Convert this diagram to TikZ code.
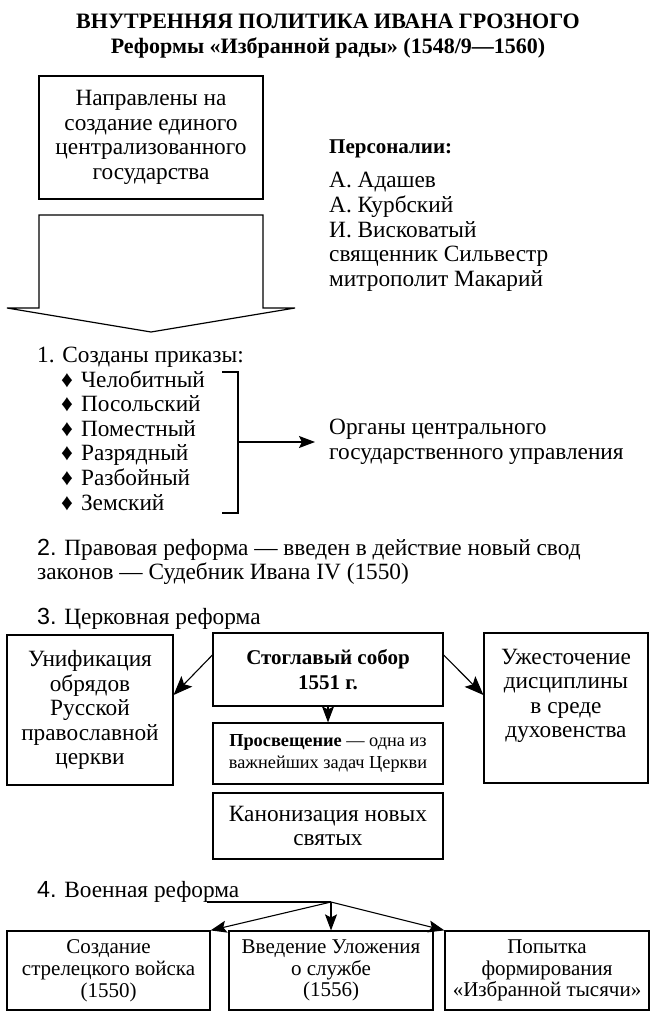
\documentclass[tikz,border=0pt]{standalone}
\usepackage{fontspec}
\setmainfont{Liberation Serif}
\newfontfamily\numfont{Liberation Sans}
\usetikzlibrary{arrows.meta}
\newcommand{\fBody}{\fontsize{23.3}{24.5}\selectfont}
\newcommand{\fSmall}{\fontsize{18.3}{22}\selectfont}
\newcommand{\fMil}{\fontsize{21}{21.8}\selectfont}
\newcommand{\fTitle}{\fontsize{22}{24}\selectfont\bfseries}
\newcommand{\fBoldP}{\fontsize{21}{25}\selectfont\bfseries}
\tikzset{
  box/.style={draw, line width=1.2pt, inner sep=0pt, align=center},
  arr/.style={line width=1.1pt, -{Stealth[length=16pt,width=12pt,inset=3pt]}},
  bigarr/.style={line width=1.1pt, -{Stealth[length=19pt,width=15pt,inset=4pt]}},
  txt/.style={anchor=base west, inner sep=0pt, font=\fBody},
  bul/.style={anchor=base west, inner sep=0pt, font=\fBody}
}
\begin{document}
\begin{tikzpicture}[x=1pt,y=-1pt]
\useasboundingbox (0,0) rectangle (656,1024);
\fill[white] (0,0) rectangle (656,1024);
% title
\node[anchor=base, inner sep=0pt, font=\fTitle] (t1) at (328,29) {ВНУТРЕННЯЯ ПОЛИТИКА ИВАНА ГРОЗНОГО};
\node[anchor=base, inner sep=0pt, font=\fTitle] (t2) at (328,54) {Реформы «Избранной рады» (1548/9—1560)};
% goal box
\node[box, minimum width=224pt, minimum height=123pt, font=\fBody] (goal) at (151,137.5) {Направлены на\\создание единого\\централизованного\\государства};
% big arrow
\draw[line width=1.2pt, line join=miter] (39,215) -- (263,215) -- (263,308) -- (295,308) -- (151,332) -- (7,308) -- (39,308) -- cycle;
% persons
\node[txt, font=\fBoldP] (pers) at (329,154) {Персоналии:};
\node[txt] (p1) at (329,188) {А. Адашев};
\node[txt] (p2) at (329,212.5) {А. Курбский};
\node[txt] (p3) at (329,237) {И. Висковатый};
\node[txt] (p4) at (329,261.5) {священник Сильвестр};
\node[txt] (p5) at (329,286) {митрополит Макарий};
% item 1
\node[txt] (i1) at (37,362) {1. Созданы приказы:};
\node[bul] (b1) at (61,387) {♦\hspace{8pt}Челобитный};
\node[bul] (b2) at (61,411.6) {♦\hspace{8pt}Посольский};
\node[bul] (b3) at (61,436.2) {♦\hspace{8pt}Поместный};
\node[bul] (b4) at (61,460.8) {♦\hspace{8pt}Разрядный};
\node[bul] (b5) at (61,485.4) {♦\hspace{8pt}Разбойный};
\node[bul] (b6) at (61,510) {♦\hspace{8pt}Земский};
\coordinate (bt) at (222,372);
\coordinate (bb) at (222,513);
\coordinate (bm) at (238,442);
\draw[line width=1.1pt] (bt) -- (238,372) -- (238,513) -- (bb);
\node[anchor=west, inner sep=0pt, align=left, font=\fBody] (org) at (329,442) {Органы центрального\\государственного управления};
\draw[arr, shorten >=14pt] (bm) -- (org.west);
% item 2
\node[txt] (i2) at (37,555) {{\numfont 2.} Правовая реформа — введен в действие новый свод};
\node[txt] (i2b) at (37,579) {законов — Судебник Ивана IV (1550)};
% item 3
\node[txt] (i3) at (37,624) {{\numfont 3.} Церковная реформа};
\node[box, minimum width=166pt, minimum height=150pt, font=\fBody] (unif) at (90,710) {Унификация\\обрядов\\Русской\\православной\\церкви};
\node[box, minimum width=230pt, minimum height=73pt, font=\fBoldP] (sobor) at (328,669.5) {Стоглавый собор\\1551 г.};
\node[box, minimum width=164pt, minimum height=150pt] (uzh) at (566,708) {};
\node[inner sep=0pt, align=center, font=\fBody] (uzht) at (566,696) {Ужесточение\\дисциплины\\в среде\\духовенства};
\node[box, minimum width=230pt, minimum height=61pt, font=\fSmall] (prosv) at (328,753.5) {\textbf{Просвещение} — одна из\\важнейших задач Церкви};
\node[box, minimum width=230pt, minimum height=66pt, font=\fBody] (kanon) at (328,826) {Канонизация новых\\святых};
\draw[bigarr] ([yshift=14.5pt]sobor.west) -- ([yshift=15pt]unif.east);
\draw[bigarr] ([yshift=14.5pt]sobor.east) -- ([yshift=13pt]uzh.west);
\draw[arr] (sobor.south) -- (prosv.north);
% item 4
\node[txt] (i4) at (37,897) {{\numfont 4.} Военная реформа};
\coordinate (ls) at (207,902);
\coordinate (j) at (331,902);
\node[box, minimum width=203pt, minimum height=79pt, font=\fMil] (strel) at (108.5,970.5) {Создание\\стрелецкого войска\\(1550)};
\node[box, minimum width=204pt, minimum height=79pt, font=\fMil] (ulozh) at (331,970.5) {Введение Уложения\\о службе\\(1556)};
\node[box, minimum width=204pt, minimum height=79pt, font=\fMil] (tys) at (547,970.5) {Попытка\\формирования\\«Избранной тысячи»};
\draw[line width=1.1pt] (ls) -- (j);
\draw[arr] (j) -- (strel.north east);
\draw[arr] (j) -- (ulozh.north);
\draw[arr] (j) -- (tys.north west);
\end{tikzpicture}
\end{document}
